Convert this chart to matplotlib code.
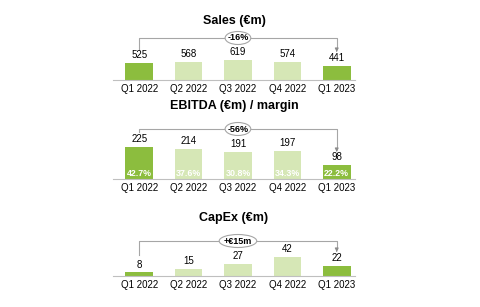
import matplotlib.pyplot as plt
from matplotlib.patches import Ellipse

plt.rcParams['font.family'] = ['Liberation Sans', 'DejaVu Sans']

quarters = ["Q1 2022", "Q2 2022", "Q3 2022", "Q4 2022", "Q1 2023"]
sales = [525, 568, 619, 574, 441]
ebitda = [225, 214, 191, 197, 98]
margin = ["42.7%", "37.6%", "30.8%", "34.3%", "22.2%"]
capex = [8, 15, 27, 42, 22]
changes = ["-16%", "-56%", "+€15m"]
titles = ["Sales (€m)", "EBITDA (€m) / margin", "CapEx (€m)"]

dark = "#8cbd3e"
light = "#d6e7b6"
colors = [dark, light, light, light, dark]

W, H = 480, 307
fig = plt.figure(figsize=(W / 100, H / 100), dpi=100)

# panel layout in pixels: baseline, title y, px per unit, bracket y, left end y, arrow tip y
panels = [
    (sales, 80, 21, 0.032, 38, 50, 52),
    (ebitda, 179, 106, 0.142, 129, 132, 152),
    (capex, 276, 218, 0.46, 241, 255, 252),
]

x0, x1 = 113, 355
for i, (vals, base, ty, scale, by, ly, ay) in enumerate(panels):
    h = base - ty
    ax = fig.add_axes([x0 / W, 1 - base / H, (x1 - x0) / W, h / H])
    xs = range(len(vals))
    ax.bar(xs, vals, width=0.56, color=colors)
    ax.set_xlim(-0.53, 4.37)
    ax.set_ylim(0, h / scale)
    for s in ["top", "right", "left"]:
        ax.spines[s].set_visible(False)
    ax.spines["bottom"].set_color("#bfbfbf")
    ax.spines["bottom"].set_linewidth(0.8)
    ax.set_yticks([])
    ax.set_xticks(list(xs))
    ax.set_xticklabels(quarters, fontsize=7)
    ax.tick_params(axis="x", length=0, pad=3)

    for x, v in zip(xs, vals):
        ax.annotate(str(v), (x, v), xytext=(0, 2), textcoords="offset points",
                    ha="center", va="bottom", fontsize=7)

    if vals is ebitda:
        for x, m in zip(xs, margin):
            ax.text(x, 5 / scale, m, ha="center", va="center", color="white",
                    fontsize=6.4, fontweight="bold")

    ax.text(0.5, 1, titles[i], transform=ax.transAxes, ha="center",
            va="center", fontsize=9, fontweight="bold")

    tr = ax.get_xaxis_transform()
    fb = (base - by) / h
    fl = (base - ly) / h
    fa = (base - ay) / h
    ax.plot([0, 0, 4, 4], [fl, fb, fb, fa + 0.06], color="#a6a6a6", lw=0.8,
            transform=tr, clip_on=False)
    ax.annotate("", xy=(4, fa), xytext=(4, fa + 0.07), xycoords=tr, textcoords=tr,
                arrowprops=dict(arrowstyle="-|>", color="#8c8c8c", lw=0.8,
                                mutation_scale=5))
    ew = 0.52 if i < 2 else 0.76
    e = Ellipse((2, fb), ew, 13 / h, transform=tr, facecolor="white",
                edgecolor="#a6a6a6", lw=0.8, clip_on=False, zorder=3)
    ax.add_patch(e)
    ax.text(2, fb, changes[i], transform=tr, ha="center", va="center",
            fontsize=6.5, fontweight="bold", zorder=4)

fig.savefig("out.png", dpi=100)
